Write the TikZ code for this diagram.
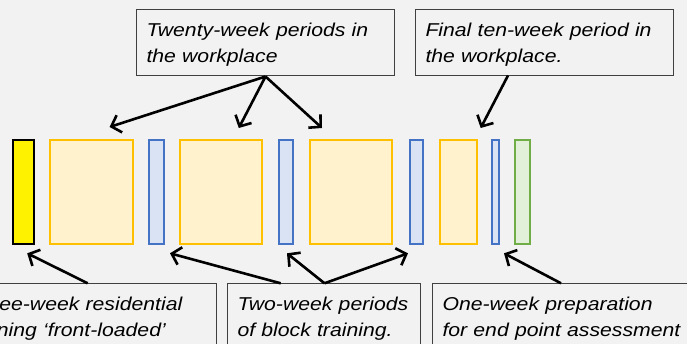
\documentclass[tikz,border=0pt]{standalone}
\usepackage{fontspec}
\setmainfont[FakeStretch=1.14]{Liberation Sans}
\usepackage{tikz}
\usetikzlibrary{arrows.meta}

\definecolor{pagegrey}{RGB}{242,242,242}
\definecolor{wkline}{RGB}{255,192,0}
\definecolor{wkfill}{RGB}{255,242,204}
\definecolor{blkline}{RGB}{68,114,196}
\definecolor{blkfill}{RGB}{218,227,243}
\definecolor{epaline}{RGB}{112,173,71}
\definecolor{epafill}{RGB}{226,240,217}

\tikzset{
  period/.style={rectangle, anchor=north west, inner sep=0pt, line width=2.2pt},
  resid/.style={period, draw=black, fill=yellow},
  wkplace/.style={period, draw=wkline, fill=wkfill},
  block/.style={period, draw=blkline, fill=blkfill},
  epa/.style={period, draw=epaline, fill=epafill},
  callout/.style={rectangle, anchor=north west, draw={rgb,255:red,64;green,64;blue,64}, line width=1pt,
    fill=pagegrey, align=left, inner xsep=10pt, inner ysep=8pt, text height=19pt, text depth=31pt,
    font=\fontsize{18.6}{26}\selectfont\itshape},
  pointer/.style={line width=2.6pt, -{Straight Barb[length=8.5pt,width=18pt,line width=2.6pt]}}
}

\begin{document}
\begin{tikzpicture}[x=1pt,y=1pt,yscale=-1]
  %set diagram to the 687 x 344 frame
  \fill [pagegrey] (0,0) rectangle (687,344);
  \useasboundingbox (0,0) rectangle (687,344);

  %Shape: Rectangle [periods]
  \node [resid, minimum width=21pt, minimum height=104pt] (res) at (11.5,138.7) {};
  \node [wkplace, minimum width=83pt, minimum height=104pt] (wpa) at (49,138.7) {};
  \node [block, minimum width=14.5pt, minimum height=104pt] (bta) at (148,138.7) {};
  \node [wkplace, minimum width=82pt, minimum height=104pt] (wpb) at (179,138.7) {};
  \node [block, minimum width=14pt, minimum height=104pt] (btb) at (278,138.7) {};
  \node [wkplace, minimum width=82pt, minimum height=104pt] (wpc) at (309,138.7) {};
  \node [block, minimum width=13.5pt, minimum height=104pt] (btc) at (408.5,138.7) {};
  \node [wkplace, minimum width=36.5pt, minimum height=104pt] (wpd) at (439,138.7) {};
  \node [block, minimum width=6.5pt, minimum height=104pt] (btd) at (491,138.7) {};
  \node [epa, minimum width=14.5pt, minimum height=104pt] (prep) at (514,138.7) {};

  % Text Node
  \node [callout, text width=238pt] (twenty) at (136,9.5) {Twenty-week periods in\\the workplace};
  % Text Node
  \node [callout, text width=238pt] (final) at (415,9.5) {Final ten-week period in\\the workplace.};
  % Text Node
  \node [callout, text width=239pt] (three) at (-43,283.3) {Three-week residential\\training ‘front-loaded’};
  % Text Node
  \node [callout, text width=173pt] (two) at (227,283.3) {Two-week periods\\of block training.};
  % Text Node
  \node [callout, text width=240pt] (one) at (432,283.3) {One-week preparation\\for end point assessment};

  %arrow ends
  \coordinate (finfoot) at (508,75.5);
  \coordinate (twofoot) at (324.5,283.3);
  \coordinate (threefoot) at (87.7,283.3);
  \coordinate (onefoot) at (561,283.3);
  \coordinate (wpatip) at (109.6,127);
  \coordinate (wpbtip) at (238.8,128);
  \coordinate (wpctip) at (322,128);
  \coordinate (wpdtip) at (480.7,128);
  \coordinate (restip) at (27.2,253.3);
  \coordinate (btatip) at (170,253.3);
  \coordinate (btbtip) at (287,253.3);
  \coordinate (btctip) at (408,253.3);
  \coordinate (btdtip) at (504,253.3);

  %Straight Lines [arrows]
  \draw [pointer] (twenty.south) -- (wpatip);
  \draw [pointer] (twenty.south) -- (wpbtip);
  \draw [pointer] (twenty.south) -- (wpctip);
  \draw [pointer] (finfoot) -- (wpdtip);
  \draw [pointer] (threefoot) -- (restip);
  \draw [pointer] (280.7,283.3) -- (btatip);
  \draw [pointer] (twofoot) -- (btbtip);
  \draw [pointer] (twofoot) -- (btctip);
  \draw [pointer] (onefoot) -- (btdtip);
\end{tikzpicture}
\end{document}
